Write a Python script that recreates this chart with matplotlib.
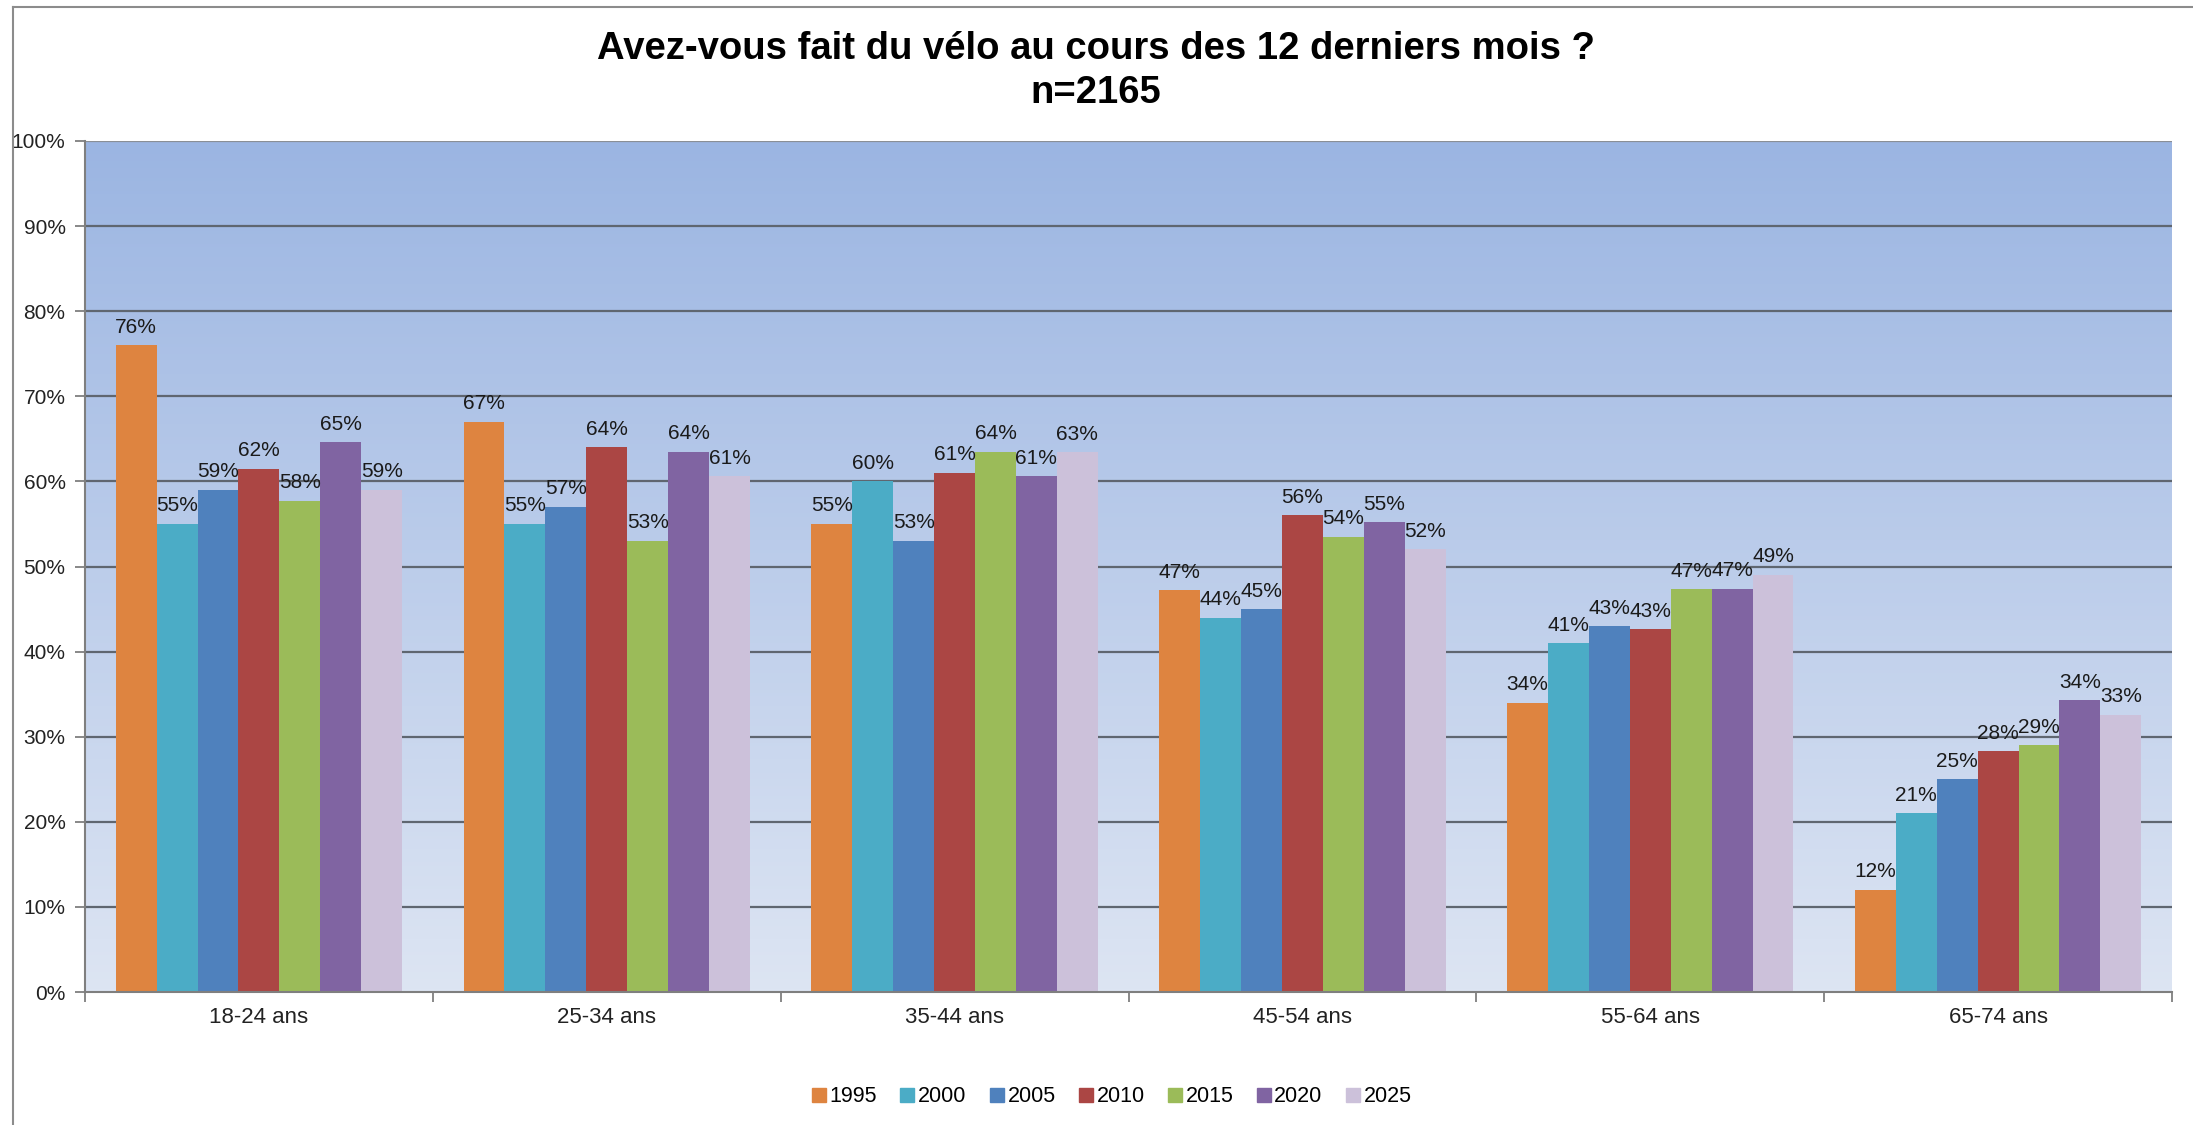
import numpy as np
import matplotlib
matplotlib.use("Agg")
import matplotlib.pyplot as plt
from matplotlib.colors import LinearSegmentedColormap
from matplotlib.lines import Line2D

categories = ["18-24 ans", "25-34 ans", "35-44 ans", "45-54 ans", "55-64 ans", "65-74 ans"]
years = ["1995", "2000", "2005", "2010", "2015", "2020", "2025"]
v1995 = [76, 67, 55, 47.2, 34, 12]
v2000 = [55, 55, 60, 44, 41, 21]
v2005 = [59, 57, 53, 45, 43, 25]
v2010 = [61.5, 64, 61, 56, 42.6, 28.3]
v2015 = [57.7, 53, 63.5, 53.5, 47.3, 29]
v2020 = [64.6, 63.5, 60.6, 55.2, 47.4, 34.3]
v2025 = [59, 60.6, 63.4, 52, 49, 32.6]
series = [v1995, v2000, v2005, v2010, v2015, v2020, v2025]
colors = ["#DE8440", "#4BACC6", "#4F81BD", "#AB4644", "#9BBB59", "#8064A2", "#CCC1DA"]
yticks = [0, 10, 20, 30, 40, 50, 60, 70, 80, 90, 100]

plt.rcParams['font.family'] = ['Liberation Sans', 'DejaVu Sans']
W, H = 2193, 1125
fig = plt.figure(figsize=(W / 100, H / 100), dpi=100)
fig.patch.set_facecolor("white")

L, R, T, B = 85, 2172, 141, 992
ax = fig.add_axes([L / W, 1 - B / H, (R - L) / W, (B - T) / H])

n = len(years)
gap = 1.5
bw = 1.0 / (n + gap)
x = np.arange(len(categories))

# gradient background
cmap = LinearSegmentedColormap.from_list("bg", ["#DDE5F3", "#9BB5E2"])
grad = np.linspace(0, 1, 256).reshape(-1, 1)
ax.imshow(grad, extent=[-0.5, len(categories) - 0.5, 0, 100], origin="lower",
          aspect="auto", cmap=cmap, zorder=0)

ax.set_xlim(-0.5, len(categories) - 0.5)
ax.set_ylim(0, 100)

for yv in yticks[1:]:
    ax.axhline(yv, color="#5F6670" if yv < 100 else "#8A8F96", lw=1.6, zorder=1)

for i, (vals, c, yr) in enumerate(zip(series, colors, years)):
    offs = (i - (n - 1) / 2) * bw
    ax.bar(x + offs, vals, width=bw, color=c, zorder=2, label=yr)
    for xi, v in zip(x + offs, vals):
        ax.text(xi, v + 1.0, "{:.0f}%".format(v), ha="center", va="bottom",
                fontsize=15, color="#1a1a1a", zorder=3)

ax.set_yticks(yticks)
ax.set_yticklabels([f"{t}%" for t in yticks], fontsize=15, color="#222222")
ax.set_xticks(x)
ax.set_xticklabels(categories, fontsize=16, color="#222222")
ax.tick_params(axis="x", length=0, pad=11)
ax.tick_params(axis="y", length=7, width=1.3, color="#7F7F7F", pad=7)
ax.set_xticks(np.arange(len(categories) + 1) - 0.5, minor=True)
ax.tick_params(axis="x", which="minor", length=7, width=1.3, color="#7F7F7F", direction="out")

for s in ["top", "right"]:
    ax.spines[s].set_visible(False)
ax.spines["left"].set_color("#7F7F7F")
ax.spines["left"].set_linewidth(1.5)
ax.spines["bottom"].set_color("#7F7F7F")
ax.spines["bottom"].set_linewidth(1.5)

fig.text(1096 / W, 1 - 59 / H, "Avez-vous fait du vélo au cours des 12 derniers mois ?",
         ha="center", va="baseline", fontsize=27.5, fontweight="bold", color="black")
fig.text(1096 / W, 1 - 103 / H, "n=2165",
         ha="center", va="baseline", fontsize=27.5, fontweight="bold", color="black")

handles = [Line2D([0], [0], marker="s", linestyle="none", markersize=9.5,
                  markerfacecolor=c, markeredgecolor=c) for c in colors]
fig.legend(handles, years, loc="center", bbox_to_anchor=(1112 / W, 1 - 1097 / H),
           ncol=n, frameon=False, fontsize=15.5, handlelength=0.6, handletextpad=0.2,
           columnspacing=1.1)

# chart border (left and top)
fig.add_artist(Line2D([13 / W, 13 / W], [0, 1 - 7 / H], color="#8C8C8C", lw=1.5))
fig.add_artist(Line2D([13 / W, 1], [1 - 7 / H, 1 - 7 / H], color="#8C8C8C", lw=1.5))

fig.savefig("out.png", dpi=100, facecolor="white")
